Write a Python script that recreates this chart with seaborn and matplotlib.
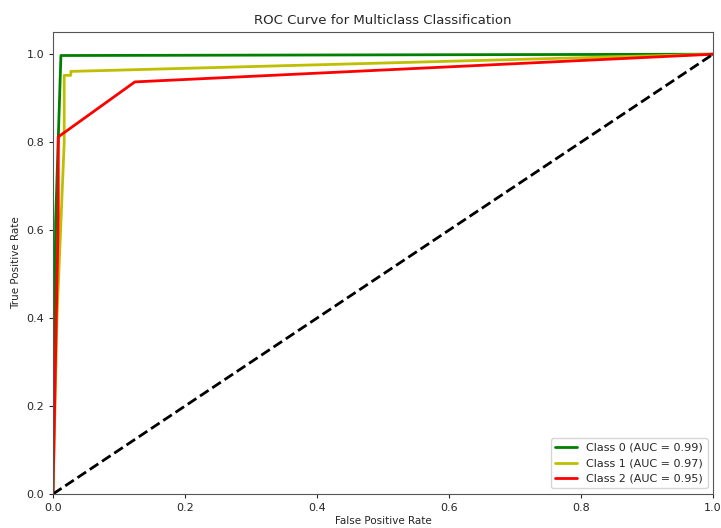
import matplotlib
matplotlib.use("Agg")
import matplotlib.pyplot as plt
import seaborn as sns
import pandas as pd

sns.set_style("white")
plt.rcParams['font.family'] = ['DejaVu Sans']

class_names = ["Class 0", "Class 1", "Class 2"]
auc_values = [0.99, 0.97, 0.95]
colors = ["green", "y", "r"]

fpr0 = [0.0, 0.004, 0.012, 1.0]
tpr0 = [0.0, 0.62, 0.997, 1.0]
fpr1 = [0.0, 0.006, 0.017, 0.017, 0.027, 0.027, 0.03, 1.0]
tpr1 = [0.0, 0.40, 0.80, 0.952, 0.952, 0.961, 0.961, 1.0]
fpr2 = [0.0, 0.005, 0.008, 0.008, 0.124, 1.0]
tpr2 = [0.0, 0.40, 0.63, 0.812, 0.937, 1.0]
fprs = [fpr0, fpr1, fpr2]
tprs = [tpr0, tpr1, tpr2]

diag = [0.0, 1.0]

fig = plt.figure(figsize=(7.21, 5.28), dpi=100)
ax = fig.add_axes([0.0735, 0.0644, 0.9155, 0.8746])

for name, auc, c, f, t in zip(class_names, auc_values, colors, fprs, tprs):
    df = pd.DataFrame({"fpr": f, "tpr": t})
    sns.lineplot(data=df, x="fpr", y="tpr", ax=ax, color=c, lw=2, sort=False,
                 estimator=None, label=f"{name} (AUC = {auc:.2f})")

sns.lineplot(x=diag, y=diag, ax=ax, color="k", lw=2, linestyle="--", estimator=None)

ax.set_xlim(0.0, 1.0)
ax.set_ylim(0.0, 1.05)
ax.set_xlabel("False Positive Rate", fontsize=7.5, labelpad=2)
ax.set_ylabel("True Positive Rate", fontsize=7.5)
ax.set_title("ROC Curve for Multiclass Classification", fontsize=9.5)
ax.tick_params(axis="both", labelsize=8, length=3, direction="out", bottom=True, left=True)
for s in ax.spines.values():
    s.set_color("#555555")
ax.legend(loc="lower right", fontsize=8)

fig.savefig("out.png", dpi=100)
